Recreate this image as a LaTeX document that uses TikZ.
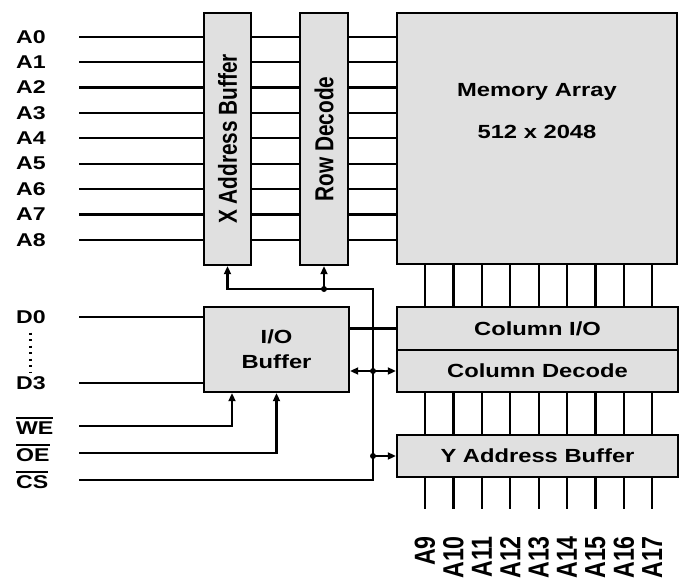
\documentclass[tikz,border=0pt]{standalone}
\usepackage{fontspec}
\setmainfont{Liberation Sans}[FakeStretch=1.25]
\newfontfamily\rotfont{Liberation Sans}[FakeStretch=0.8]
\usetikzlibrary{arrows.meta}
\newcommand\barred[1]{\setbox0=\hbox{#1}\rlap{\rule[\dimexpr\ht0+2.5pt\relax]{\wd0}{1.8pt}}\box0}

\begin{document}
\begin{tikzpicture}[x=1pt, y=-1pt, line width=2.2pt,
    blk/.style={draw, line width=2.4pt, fill=black!12, inner sep=0pt},
    lbl/.style={anchor=west, inner sep=0pt, font=\fontsize{18.5}{20}\selectfont\bfseries},
    txt/.style={align=center, font=\fontsize{19}{25}\selectfont\bfseries},
    rtxt/.style={rotate=90, inner sep=0pt, font=\rotfont\fontsize{26}{28}\selectfont\bfseries},
    sig/.style={-{Triangle[length=8pt, width=7pt]}},
    jdot/.style={circle, fill, inner sep=0pt, minimum size=6pt}]
    \useasboundingbox (0,0) rectangle (681,578);

    % blocks
    \node[blk, minimum width=47, minimum height=252] (xbuf) at (227.5,139) {};
    \node[blk, minimum width=48, minimum height=252] (rdec) at (324,139) {};
    \node[blk, minimum width=280, minimum height=251] (mem) at (537,138.5) {};
    \node[blk, minimum width=145, minimum height=85] (iobuf) at (276.5,349.5) {};
    \node[blk, minimum width=281, minimum height=43] (colio) at (537.5,328.5) {};
    \node[blk, minimum width=281, minimum height=42] (coldec) at (537.5,371) {};
    \node[blk, minimum width=281, minimum height=42] (ybuf) at (537.5,456) {};

    \node[rtxt] at (xbuf) {X Address Buffer};
    \node[rtxt] at (rdec) {Row Decode};
    \node[txt] at (537,111) {Memory Array\\[17pt]512 x 2048};
    \node[txt] at (iobuf) {I/O\\Buffer};
    \node[txt] at (colio) {Column I/O};
    \node[txt] at (coldec) {Column Decode};
    \node[txt] at (ybuf) {Y Address Buffer};

    \coordinate (lft) at (79,0);
    \coordinate (bus) at (373,289);

    % row address
    \foreach \i in {0,...,8}{
      \node[lbl] (a\i) at (15,{36.7+25.4*\i}) {A\i};
      \draw (lft |- a\i) -- (xbuf.west |- a\i);
      \draw (xbuf.east |- a\i) -- (rdec.west |- a\i);
      \draw (rdec.east |- a\i) -- (mem.west |- a\i);
    }

    % data and control
    \node[lbl] (d0) at (15,317) {D0};
    \node[lbl] (d3) at (15,383) {D3};
    \node[lbl] (we) at (15,426) {\barred{WE}};
    \node[lbl] (oe) at (15,453) {\barred{OE}};
    \node[lbl] (cs) at (15,480) {\barred{CS}};
    \draw[line width=2.8pt, dash pattern=on 2pt off 4.5pt, shorten <=8pt, shorten >=3pt] (d0.south) -- (d3.north);
    \draw (lft |- d0) -- (iobuf.west |- d0);
    \draw (lft |- d3) -- (iobuf.west |- d3);
    \draw[sig] (lft |- we) -| ([xshift=-44.5]iobuf.south);
    \draw[sig] (lft |- oe) -| (iobuf.south);
    \draw[sig] (lft |- cs) -| (bus) -| (xbuf.south);
    \draw[sig] (rdec.south |- bus) -- (rdec.south);
    \node[jdot] at (rdec.south |- bus) {};
    \draw (iobuf.east |- colio) -- (colio.west);
    \draw[sig] (bus |- coldec) -- (coldec.west);
    \draw[sig] (bus |- coldec) -- (iobuf.east |- coldec);
    \node[jdot] at (bus |- coldec) {};
    \draw[sig] (bus |- ybuf) -- (ybuf.west);
    \node[jdot] at (bus |- ybuf) {};

    % column address
    \foreach \i [count=\k from 9] in {0,...,8}{
      \pgfmathsetmacro\cx{425+28.4*\i}
      \draw (\cx,0 |- mem.south) -- (\cx,0 |- colio.north);
      \draw (\cx,0 |- coldec.south) -- (\cx,0 |- ybuf.north);
      \node[rtxt, anchor=east, font=\rotfont\fontsize{29}{30}\selectfont\bfseries] (b\i) at (\cx,535) {A\k};
      \draw[shorten >=26pt] (ybuf.south -| b\i.east) -- (b\i.east);
    }
\end{tikzpicture}
\end{document}
